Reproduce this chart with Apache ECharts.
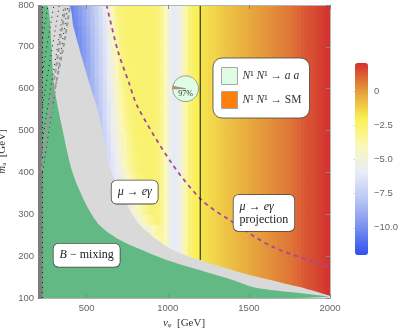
<!DOCTYPE html>
<html>
<head>
<meta charset="utf-8">
<script src="https://cdn.jsdelivr.net/npm/echarts@6/dist/echarts.min.js"></script>
<style>
  html, body { margin: 0; padding: 0; background: #fff; }
  #chart { width: 405px; height: 333px; }
</style>
</head>
<body>
<div id="chart"></div>
<script>
// v_phi bands (25 GeV wide, centres) and m_a bands (25 GeV wide, centres)
const vBands = [212.5, 237.5, 262.5, 287.5, 312.5, 337.5, 362.5, 387.5, 412.5, 437.5,
  462.5, 487.5, 512.5, 537.5, 562.5, 587.5, 612.5, 637.5, 662.5, 687.5,
  712.5, 737.5, 762.5, 787.5, 812.5, 837.5, 862.5, 887.5, 912.5, 937.5,
  962.5, 987.5, 1012.5, 1037.5, 1062.5, 1087.5, 1112.5, 1137.5, 1162.5, 1187.5,
  1212.5, 1237.5, 1262.5, 1287.5, 1312.5, 1337.5, 1362.5, 1387.5, 1412.5, 1437.5,
  1462.5, 1487.5, 1512.5, 1537.5, 1562.5, 1587.5, 1612.5, 1637.5, 1662.5, 1687.5,
  1712.5, 1737.5, 1762.5, 1787.5, 1812.5, 1837.5, 1862.5, 1887.5, 1912.5, 1937.5,
  1962.5, 1987.5];
const mBands = [112.5, 137.5, 162.5, 187.5, 212.5, 237.5, 262.5, 287.5, 312.5, 337.5,
  362.5, 387.5, 412.5, 437.5, 462.5, 487.5, 512.5, 537.5, 562.5, 587.5,
  612.5, 637.5, 662.5, 687.5, 712.5, 737.5, 762.5, 787.5];
const bandHalf = 12.5;

// colour value along v_phi (top row, and everywhere away from the mu->e gamma edge)
const profile = [-10.5, -10.5, -10.5, -10.5, -10.5, -10.5, -10.5, -10.5, -10.4, -10.0,
  -9.5, -9.0, -8.5, -8.0, -7.4, -6.8, -6.0, -5.0, -3.9, -3.0,
  -2.7, -2.6, -2.55, -2.5, -2.5, -2.5, -2.5, -2.5, -2.55, -2.7,
  -3.1, -4.0, -5.2, -6.0, -5.8, -4.8, -3.6, -2.8, -2.3, -2.0,
  -1.6, -1.55, -1.4, -1.3, -1.15, -1.05, -0.9, -0.8, -0.7, -0.6,
  -0.45, -0.35, -0.2, -0.1, 0.0, 0.1, 0.2, 0.3, 0.4, 0.5,
  0.6, 0.7, 0.8, 0.95, 1.1, 1.25, 1.4, 1.5, 1.6, 1.75,
  1.85, 2.0];

// rows (by m band) that differ near the gray edge, starting at v = 387.5
const edgeStart = 7;
const edgeRows = [
  [], [], [], [], [],
  [-4.8, -4.8, -4.8, -4.8, -4.8, -4.8, -4.8, -4.8, -4.8, -4.8, -4.8, -4.8, -4.8, -4.8, -4.8, -4.8, -4.8, -4.8, -4.8, -4.8, -4.8, -4.6, -4.0, -3.6],
  [-5.0, -5.0, -5.0, -5.0, -5.0, -5.0, -5.0, -5.0, -5.0, -5.0, -5.0, -5.0, -5.0, -5.0, -5.0, -5.0, -5.0, -5.0, -5.0, -5.0, -4.7, -4.0, -3.5, -3.4],
  [-5.2, -5.2, -5.2, -5.2, -5.2, -5.2, -5.2, -5.2, -5.2, -5.2, -5.2, -5.2, -5.2, -5.2, -5.2, -5.2, -5.2, -5.0, -4.5, -3.9, -3.4, -3.0, -2.8],
  [-5.5, -5.5, -5.5, -5.5, -5.5, -5.5, -5.5, -5.5, -5.5, -5.5, -5.5, -5.5, -5.5, -5.5, -5.5, -5.4, -4.9, -4.3, -3.7, -3.2, -2.85, -2.65],
  [-5.8, -5.8, -5.8, -5.8, -5.8, -5.8, -5.8, -5.8, -5.8, -5.8, -5.8, -5.8, -5.8, -5.8, -5.6, -5.0, -4.4, -3.8, -3.2, -2.85, -2.65],
  [-6.0, -6.0, -6.0, -6.0, -6.0, -6.0, -6.0, -6.0, -6.0, -6.0, -6.0, -6.0, -6.0, -5.9, -5.3, -4.6, -3.9, -3.3, -2.9, -2.7],
  [-6.3, -6.3, -6.3, -6.3, -6.3, -6.3, -6.3, -6.3, -6.3, -6.3, -6.3, -6.3, -6.1, -5.5, -4.8, -4.1, -3.5, -3.0, -2.75, -2.6],
  [-6.6, -6.6, -6.6, -6.6, -6.6, -6.6, -6.6, -6.6, -6.6, -6.6, -6.6, -6.3, -5.7, -5.0, -4.3, -3.6, -3.05, -2.75, -2.6],
  [-6.9, -6.9, -6.9, -6.9, -6.9, -6.9, -6.9, -6.9, -6.9, -6.9, -6.8, -6.2, -5.5, -4.8, -4.1, -3.4, -2.95, -2.7],
  [-7.1, -7.1, -7.1, -7.1, -7.1, -7.1, -7.1, -7.1, -7.1, -7.1, -6.7, -6.0, -5.3, -4.6, -3.9, -3.25, -2.85, -2.65],
  [-7.4, -7.4, -7.4, -7.4, -7.4, -7.4, -7.4, -7.4, -7.4, -7.2, -6.6, -5.9, -5.2, -4.4, -3.7, -3.1, -2.8, -2.6],
  [-7.7, -7.7, -7.7, -7.7, -7.7, -7.7, -7.7, -7.7, -7.6, -7.1, -6.4, -5.7, -5.0, -4.2, -3.5, -2.95, -2.7],
  [-8.0, -8.0, -8.0, -8.0, -8.0, -8.0, -8.0, -8.0, -7.7, -7.0, -6.3, -5.6, -4.8, -4.0, -3.3, -2.85, -2.65],
  [-8.3, -8.3, -8.3, -8.3, -8.3, -8.3, -8.3, -8.2, -7.6, -6.9, -6.2, -5.5, -4.6, -3.8, -3.15, -2.8, -2.6],
  [-8.6, -8.6, -8.6, -8.6, -8.6, -8.6, -8.6, -8.1, -7.5, -6.8, -6.1, -5.3, -4.4, -3.6, -3.05, -2.75, -2.6],
  [-8.9, -8.9, -8.9, -8.9, -8.9, -8.9, -8.6, -8.0, -7.4, -6.7, -6.0, -5.2, -4.2, -3.4, -2.9, -2.65],
  [-9.2, -9.2, -9.2, -9.2, -9.2, -9.0, -8.5, -7.9, -7.3, -6.6, -5.9, -5.0, -4.0, -3.25, -2.8, -2.6],
  [-9.5, -9.5, -9.5, -9.5, -9.4, -9.0, -8.5, -7.9, -7.3, -6.6, -5.8, -4.9, -3.9, -3.1, -2.75, -2.6],
  [-9.8, -9.8, -9.8, -9.8, -9.5, -9.0, -8.4, -7.8, -7.2, -6.5, -5.7, -4.7, -3.7, -3.0, -2.7],
  [-10.0, -10.0, -10.0, -9.9, -9.4, -8.9, -8.3, -7.7, -7.1, -6.4, -5.6, -4.5, -3.5, -2.9, -2.65],
  [-10.2, -10.2, -10.2, -9.8, -9.3, -8.8, -8.2, -7.6, -7.0, -6.3, -5.4, -4.3, -3.3, -2.8, -2.6],
  [-10.4, -10.4, -10.1, -9.6, -9.1, -8.6, -8.1, -7.5, -6.9, -6.2, -5.2, -4.1, -3.2, -2.75, -2.6],
  []
];

// region edges [v_phi, m_a]
const grayEdge = [[200, 800], [383, 800], [420, 745], [457, 692], [525, 602], [568, 549], [642, 413],
  [734, 334], [827, 275], [1012, 219], [1197, 191], [1506, 155], [1814, 126], [2000, 105]];
const greenEdge = [[200, 800], [253, 800], [302, 602], [352, 501], [413, 400], [500, 321], [580, 274],
  [703, 239], [826, 217], [993, 191], [1196, 167], [1400, 143], [1548, 124], [1813, 112], [1998, 103]];
const barEdge = [[200, 800], [228, 800]];
const projLine = [[623, 800], [691, 692], [759, 616], [815, 556], [1024, 422], [1209, 334],
  [1382, 286], [1647, 222], [2000, 174]];
const vLine = [[1200, 191], [1200, 800]];
const grayDash1 = [[241, 453], [303, 596], [364, 716], [395, 793]];
const grayDash2 = [[222, 406], [259, 525], [309, 645], [346, 740], [370, 793]];
const hatchLines = [
  [[228, 720], [262, 800]],
  [[228, 640], [298, 800]],
  [[228, 560], [332, 800]],
  [[228, 480], [362, 800]],
  [[228, 400], [383, 795]],
  [[228, 100], [228, 800]]
];

const xTicks = [500, 1000, 1500, 2000];
const barTicks = [-10, -7.5, -5, -2.5, 0];
const piePos = [1110, 600];
const pieShares = [3, 97];
const pieNames = ['N¹ N¹ → SM', 'N¹ N¹ → a a'];
const boxes = [
  { pos: [796, 353], text: '{i|μ} → {i|eγ}', align: 'center', shift: 0 },
  { pos: [500, 202], text: '{i|B} − mixing', align: 'center', shift: 0 },
  { pos: [1597, 303], text: '{i|μ} → {i|eγ}\nprojection', align: 'left', shift: -31 }
];

const heat = [];
for (let j = 0; j < mBands.length; j++) {
  for (let i = 0; i < vBands.length; i++) {
    const row = edgeRows[j];
    const k = i - edgeStart;
    const val = (k >= 0 && k < row.length) ? row[k] : profile[i];
    heat.push([vBands[i], mBands[j], val]);
  }
}

const serif = 'Liberation Serif';
const sans = 'Liberation Sans';

function line(data, color, width, type, extra) {
  return Object.assign({
    type: 'line', data: data, showSymbol: false, symbol: 'none', silent: true, animation: false,
    lineStyle: { color: color, width: width, type: type }
  }, extra || {});
}

const series = [
  {
    type: 'custom', data: heat, silent: true, animation: false, clip: true,
    encode: { x: 0, y: 1 },
    renderItem: function (params, api) {
      const p0 = api.coord([api.value(0) - bandHalf, api.value(1) + bandHalf]);
      const p1 = api.coord([api.value(0) + bandHalf, api.value(1) - bandHalf]);
      return {
        type: 'rect',
        shape: { x: p0[0] - 0.4, y: p0[1] - 0.4, width: p1[0] - p0[0] + 0.8, height: p1[1] - p0[1] + 0.8 },
        style: { fill: api.visual('color') }
      };
    }
  },
  line(grayEdge, '#d9d9d9', 0, 'solid', { smooth: 0.3, areaStyle: { color: '#d9d9d9', opacity: 1, origin: 'start' } }),
  line(greenEdge, '#62b983', 0, 'solid', { smooth: 0.3, areaStyle: { color: '#62b983', opacity: 1, origin: 'start' } }),
  line(barEdge, '#7d7d7d', 0, 'solid', { areaStyle: { color: '#7d7d7d', opacity: 1, origin: 'start' } })
];
hatchLines.forEach(h => series.push(line(h, '#1a1a1a', 1, [1, 4])));
series.push(line(grayDash1, '#9a9a9a', 2, [4, 3], { smooth: 0.3 }));
series.push(line(grayDash2, '#9a9a9a', 2, [4, 3], { smooth: 0.3 }));
series.push(line(projLine, '#a3479f', 1.8, [4, 4], { smooth: 0.3 }));
series.push(line(vLine, '#111', 1, 'solid'));
series.push({
  type: 'scatter', symbolSize: 0, silent: true, animation: false,
  itemStyle: { opacity: 1 },
  data: boxes.map(b => ({ value: b.pos, label: { formatter: b.text, align: b.align, offset: [b.shift, 0] } })),
  label: {
    show: true, position: 'inside', fontFamily: serif, fontSize: 12, color: '#222', lineHeight: 13,
    backgroundColor: '#fff', borderColor: '#444', borderWidth: 0.8, borderRadius: 5,
    padding: [5, 6, 5, 6], opacity: 1,
    rich: { i: { fontFamily: serif, fontStyle: 'italic', fontSize: 12, color: '#222' } }
  },
  z: 5
});
series.push({
  type: 'pie', id: 'pie', radius: 13, center: [186, 89], startAngle: 180, clockwise: true,
  silent: true, animation: false, label: { show: false }, labelLine: { show: false },
  itemStyle: { borderColor: '#8a8a8a', borderWidth: 0.8 },
  data: [
    { name: pieNames[0], value: pieShares[0], itemStyle: { color: '#ff7f0a' } },
    { name: pieNames[1], value: pieShares[1], itemStyle: { color: '#e0fce2' } }
  ],
  z: 6
});
series.push({
  type: 'scatter', symbolSize: 0, silent: true, animation: false, itemStyle: { opacity: 1 },
  data: [piePos],
  label: { show: true, position: 'inside', offset: [0, 5], formatter: pieShares[1] + '%',
    fontFamily: serif, fontSize: 8, color: '#333' },
  z: 7
});

const legendText = {
  'N¹ N¹ → a a': '{i|N}¹ {i|N}¹ → {i|a a}',
  'N¹ N¹ → SM': '{i|N}¹ {i|N}¹ → SM'
};

const chart = echarts.init(document.getElementById('chart'), null, { renderer: 'canvas' });
chart.setOption({
  animation: false,
  grid: [
    { left: 38, top: 5, width: 292, height: 293, containLabel: false, outerBoundsMode: 'none' },
    { left: 355, top: 63, width: 13, height: 192, containLabel: false, outerBoundsMode: 'none' }
  ],
  visualMap: {
    type: 'continuous', seriesIndex: 0, dimension: 2, min: -12, max: 2.1, calculable: false,
    left: 355, top: 63, itemWidth: 13, itemHeight: 192, padding: 0, text: null,
    inRange: { color: ['#3050f0', '#7890ee', '#b8c5f3', '#e8ecf8', '#fbf8b8', '#f8f050', '#e59a3c', '#d32f2f'] }
  },
  xAxis: [
    {
      type: 'value', gridIndex: 0, min: 200, max: 2000, position: 'bottom', z: 10,
      axisLine: { show: true, lineStyle: { color: '#b5b5b5', width: 1 } },
      axisTick: { inside: true, length: 4, customValues: xTicks, lineStyle: { color: '#888' } },
      axisLabel: { customValues: xTicks, color: '#666', fontFamily: sans, fontSize: 9.5, margin: 5,
        formatter: v => String(v) },
      splitLine: { show: false },
      name: '{i|v}ᵩ  [GeV]', nameLocation: 'middle', nameGap: 19,
      nameTextStyle: { fontFamily: serif, fontSize: 11, color: '#333',
        rich: { i: { fontFamily: serif, fontStyle: 'italic', fontSize: 11, color: '#333' } } }
    },
    {
      type: 'value', gridIndex: 0, min: 200, max: 2000, position: 'top', z: 10,
      axisLine: { show: true, lineStyle: { color: '#b5b5b5', width: 1 } },
      axisTick: { inside: true, length: 4, customValues: xTicks, lineStyle: { color: '#888' } },
      axisLabel: { show: false }, splitLine: { show: false }
    },
    { type: 'value', gridIndex: 1, show: false, min: 0, max: 1 }
  ],
  yAxis: [
    {
      type: 'value', gridIndex: 0, min: 100, max: 800, interval: 100, position: 'left', z: 10,
      axisLine: { show: false },
      axisTick: { show: true, inside: true, length: 4, lineStyle: { color: '#888' } },
      axisLabel: { color: '#666', fontFamily: sans, fontSize: 9.5, margin: 4 },
      splitLine: { show: false },
      name: '{i|m}ₐ  [GeV]', nameLocation: 'middle', nameGap: 24,
      nameTextStyle: { fontFamily: serif, fontSize: 11, color: '#333',
        rich: { i: { fontFamily: serif, fontStyle: 'italic', fontSize: 11, color: '#333' } } }
    },
    {
      type: 'value', gridIndex: 0, min: 100, max: 800, interval: 100, position: 'right', z: 10,
      axisLine: { show: true, lineStyle: { color: '#b5b5b5', width: 1 } },
      axisTick: { show: true, inside: true, length: 4, lineStyle: { color: '#888' } },
      axisLabel: { show: false }, splitLine: { show: false }
    },
    {
      type: 'value', gridIndex: 1, min: -12, max: 2.1, position: 'right',
      axisLine: { show: false },
      axisTick: { show: true, inside: true, length: 2, customValues: barTicks, lineStyle: { color: '#ddd' } },
      axisLabel: {
        customValues: barTicks, color: '#666', fontFamily: sans, fontSize: 9.5, margin: 6,
        formatter: v => v === 0 ? '0' : v.toFixed(1).replace('-', '−')
      },
      splitLine: { show: false }
    }
  ],
  legend: {
    data: [pieNames[1], pieNames[0]], orient: 'vertical', left: 213, top: 58,
    padding: [9, 8, 9, 8], itemGap: 6, itemWidth: 16, itemHeight: 17, icon: 'rect',
    backgroundColor: '#fff', borderColor: '#444', borderWidth: 0.8, borderRadius: 9,
    itemStyle: { borderColor: '#a5a5a5', borderWidth: 1 },
    formatter: name => legendText[name],
    textStyle: { fontFamily: serif, fontSize: 11.5, color: '#333',
      rich: { i: { fontFamily: serif, fontStyle: 'italic', fontSize: 11.5, color: '#333' } } },
    selectedMode: false
  },
  series: series
});

const c = chart.convertToPixel({ xAxisIndex: 0, yAxisIndex: 0 }, piePos);
chart.setOption({ series: [{ id: 'pie', center: c }] });
</script>
</body>
</html>
